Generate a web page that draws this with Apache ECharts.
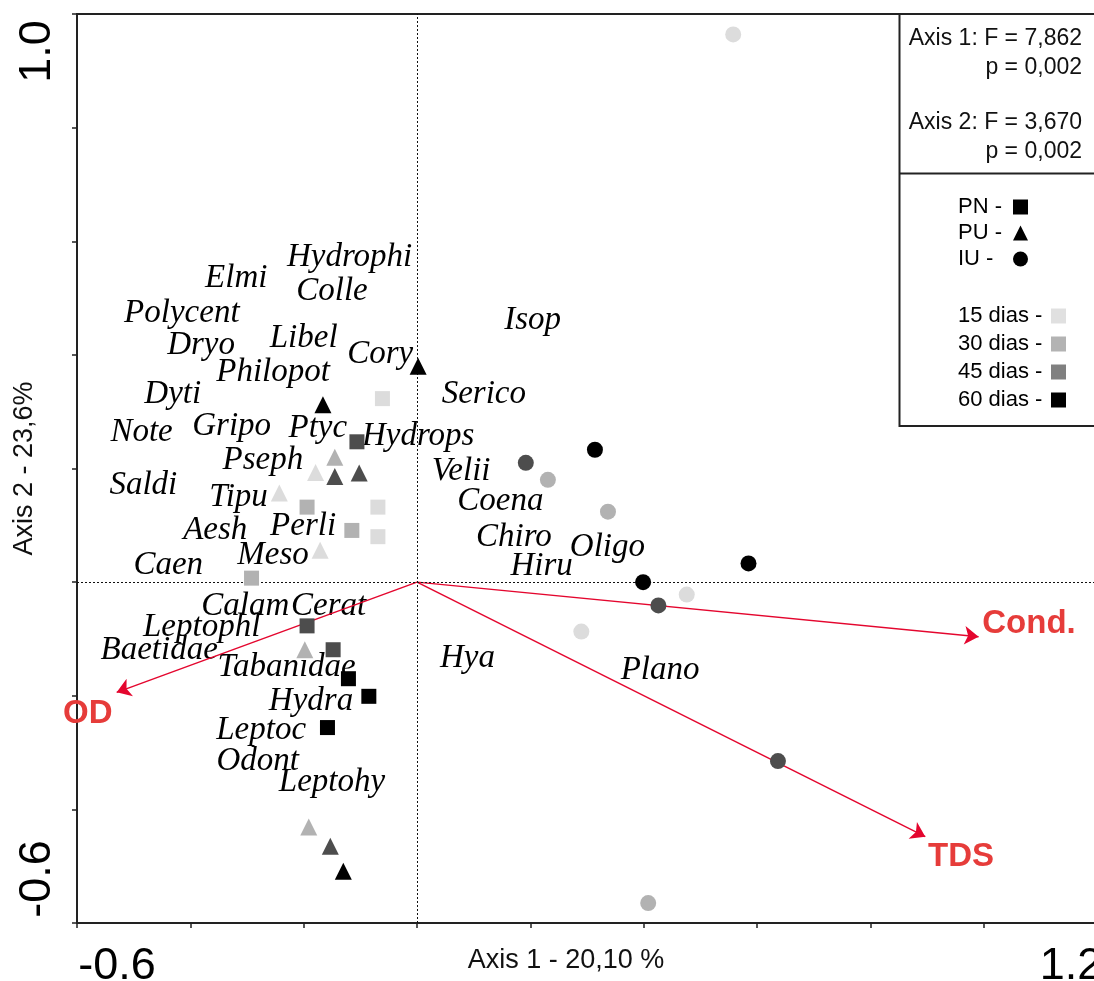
<!DOCTYPE html>
<html><head><meta charset="utf-8">
<script src="https://cdn.jsdelivr.net/npm/echarts@6/dist/echarts.min.js"></script>
<style>html,body{margin:0;padding:0;background:#fff}#chart{width:1094px;height:981px}</style>
</head><body><div id="chart"></div>
<script>
// ---- axis / ticks ----
const xTickLabels = ['-0.6', '1.2'];
const yTickLabels = ['-0.6', '1.0'];
const xAxisTitle = 'Axis 1 - 20,10 %';
const yAxisTitle = 'Axis 2 - 23,6%';

// ---- statistics box ----
const statsLines = ['Axis 1: F = 7,862', 'p = 0,002', 'Axis 2: F = 3,670', 'p = 0,002'];

// ---- legend ----
const siteNames = ['PN', 'PU', 'IU'];
const siteSymbols = ['rect', 'triangle', 'circle'];
const dayNames = ['15 dias', '30 dias', '45 dias', '60 dias'];
const dayDays = [15, 30, 45, 60];
const dayLegendColors = ['#e0e0e0', '#b3b3b3', '#808080', '#000000'];
const dayPointColors = ['#dcdcdc', '#b2b2b2', '#4d4d4d', '#000000'];

// ---- sample scores [axis1, axis2, day] ----
const pnPoints = [
  [-0.061, 0.323, 15], [-0.069, 0.132, 15], [-0.069, 0.080, 15],
  [-0.194, 0.132, 30], [-0.115, 0.091, 30], [-0.292, 0.007, 30],
  [-0.106, 0.247, 45], [-0.194, -0.077, 45], [-0.148, -0.119, 45],
  [-0.121, -0.170, 60], [-0.085, -0.201, 60], [-0.158, -0.256, 60]
];
const puPoints = [
  [-0.179, 0.193, 15], [-0.243, 0.157, 15], [-0.171, 0.056, 15],
  [-0.145, 0.220, 30], [-0.198, -0.119, 30], [-0.191, -0.431, 30],
  [-0.145, 0.186, 45], [-0.102, 0.192, 45], [-0.153, -0.465, 45],
  [0.002, 0.380, 60], [-0.166, 0.312, 60], [-0.130, -0.509, 60]
];
const iuPoints = [
  [0.558, 0.964, 15], [0.476, -0.022, 15], [0.290, -0.087, 15],
  [0.231, 0.180, 30], [0.337, 0.124, 30], [0.408, -0.565, 30],
  [0.192, 0.210, 45], [0.426, -0.041, 45], [0.637, -0.315, 45],
  [0.314, 0.233, 60], [0.585, 0.033, 60], [0.399, 0.000, 60]
];

// ---- species scores ----
const speciesNames = ['Hydrophi','Colle','Elmi','Polycent','Dryo','Libel','Cory','Philopot','Dyti','Serico',
  'Note','Gripo','Ptyc','Hydrops','Pseph','Velii','Saldi','Tipu','Coena','Aesh','Perli','Chiro','Meso','Caen',
  'Oligo','Hiru','Isop','Calam','Cerat','Leptophl','Baetidae','Tabanidae','Hydra','Leptoc','Odont','Leptohy','Hya','Plano'];
const speciesScores = [
  [-0.119, 0.571], [-0.150, 0.512], [-0.319, 0.534], [-0.415, 0.474], [-0.381, 0.416], [-0.200, 0.429],
  [-0.065, 0.401], [-0.254, 0.369], [-0.431, 0.330], [0.118, 0.330], [-0.486, 0.263], [-0.327, 0.274],
  [-0.175, 0.271], [0.002, 0.257], [-0.272, 0.214], [0.078, 0.195], [-0.483, 0.170], [-0.315, 0.150],
  [0.147, 0.142], [-0.356, 0.092], [-0.201, 0.099], [0.171, 0.078], [-0.254, 0.048], [-0.439, 0.030],
  [0.336, 0.062], [0.220, 0.027], [0.204, 0.460], [-0.303, -0.043], [-0.156, -0.043], [-0.380, -0.079],
  [-0.455, -0.120], [-0.230, -0.150], [-0.187, -0.210], [-0.275, -0.260], [-0.281, -0.315], [-0.150, -0.353],
  [0.089, -0.134], [0.429, -0.155]
];

// ---- environmental vectors ----
const envNames = ['OD', 'Cond.', 'TDS'];
const envTips = [[-0.530, -0.194], [0.991, -0.096], [0.897, -0.448]];
const envLabelAt = [[-0.581, -0.232], [1.080, -0.073], [0.960, -0.484]];

const chart = echarts.init(document.getElementById('chart'), null, {renderer: 'canvas'});

const sans = 'Liberation Sans, Arial, sans-serif';
const serif = 'Liberation Serif, Times New Roman, serif';

function fmt(v) { let s = (Math.round(v * 10) / 10).toFixed(1); if (s === '-0.0') s = '0.0'; return s; }

const sites = [
  {name: siteNames[0], pts: pnPoints, symbol: siteSymbols[0], size: 15},
  {name: siteNames[1], pts: puPoints, symbol: siteSymbols[1], size: 17},
  {name: siteNames[2], pts: iuPoints, symbol: siteSymbols[2], size: 16}
];

const series = [];
// species labels
series.push({
  type: 'scatter', name: 'species', z: 1, silent: true,
  symbolSize: 1, itemStyle: {color: 'rgba(255,255,255,0)', opacity: 1},
  data: speciesScores.map((p, i) => ({name: speciesNames[i], value: p})),
  label: {show: true, position: 'inside', formatter: p => p.name, opacity: 1,
    fontFamily: serif, fontStyle: 'italic', fontSize: 33, color: '#000'},
  markLine: {
    silent: true, symbol: 'none', animation: false,
    label: {show: false},
    lineStyle: {type: [2, 2], color: '#111', width: 1, opacity: 1},
    data: [{xAxis: 0}, {yAxis: 0}]
  },
  animation: false
});
// arrows
series.push({
  type: 'lines', coordinateSystem: 'cartesian2d', z: 2, silent: true,
  symbol: ['none', 'arrow'], symbolSize: 14,
  lineStyle: {color: '#e4062e', width: 1.5, opacity: 1},
  data: envTips.map(t => ({coords: [[0, 0], t]})),
  animation: false
});
// arrow labels
series.push({
  type: 'scatter', name: 'env', z: 2, silent: true,
  symbolSize: 1, itemStyle: {color: 'rgba(255,255,255,0)', opacity: 1},
  data: envLabelAt.map((p, i) => ({name: envNames[i], value: p})),
  label: {show: true, position: 'inside', formatter: p => p.name, opacity: 1,
    fontFamily: sans, fontWeight: 'bold', fontSize: 33, color: '#e63c3a'},
  animation: false
});
// sample points
sites.forEach(s => {
  series.push({
    type: 'scatter', name: s.name, z: 5, symbol: s.symbol, symbolSize: s.size,
    itemStyle: {color: '#000', opacity: 1},
    data: s.pts.map(p => ({value: [p[0], p[1]], itemStyle: {color: dayPointColors[dayDays.indexOf(p[2])], opacity: 1}})),
    emphasis: {disabled: true}, animation: false
  });
});
// legend-only series for days
dayNames.forEach((n, i) => series.push({type: 'scatter', name: n, data: [], itemStyle: {color: dayLegendColors[i], opacity: 1}}));

const option = {
  backgroundColor: '#fff',
  animation: false,
  grid: {left: 77, top: 14, width: 1020, height: 909, containLabel: false, outerBoundsMode: 'none',
    show: true, borderColor: '#222', borderWidth: 2, backgroundColor: 'transparent'},
  xAxis: {
    type: 'value', min: -0.6, max: 1.2, interval: 0.2,
    name: xAxisTitle, nameLocation: 'middle', nameGap: 24, nameMoveOverlap: false,
    nameTextStyle: {fontFamily: sans, fontSize: 27, color: '#111', padding: [0, 42, 0, 0]},
    axisLine: {show: true, onZero: false, lineStyle: {color: '#222', width: 2}},
    axisTick: {show: true, inside: false, length: 5, lineStyle: {color: '#222', width: 1.5}},
    splitLine: {show: false},
    axisLabel: {
      margin: 21, color: '#000', fontFamily: sans, fontSize: 45,
      formatter: v => { const s = fmt(v); if (s === xTickLabels[0]) return '{a|' + s + '}'; if (s === xTickLabels[1]) return '{b|' + s + '}'; return ''; },
      rich: {
        a: {fontFamily: sans, fontSize: 45, color: '#000', padding: [0, 0, 0, 80]},
        b: {fontFamily: sans, fontSize: 45, color: '#000', padding: [0, 52, 0, 0]}
      }
    }
  },
  yAxis: {
    type: 'value', min: -0.6, max: 1.0, interval: 0.2,
    name: yAxisTitle, nameLocation: 'middle', nameGap: 39, nameRotate: 90, nameMoveOverlap: false,
    nameTextStyle: {fontFamily: sans, fontSize: 27, color: '#111'},
    axisLine: {show: true, onZero: false, lineStyle: {color: '#222', width: 2}},
    axisTick: {show: true, inside: false, length: 5, lineStyle: {color: '#222', width: 1.5}},
    splitLine: {show: false},
    axisLabel: {
      margin: 17, rotate: 90, color: '#000', fontFamily: sans, fontSize: 45,
      formatter: v => { const s = fmt(v); if (s === yTickLabels[0]) return '{a|' + s + '}'; if (s === yTickLabels[1]) return '{b|' + s + '}'; return ''; },
      rich: {
        a: {fontFamily: sans, fontSize: 45, color: '#000', padding: [0, 0, 0, 88]},
        b: {fontFamily: sans, fontSize: 45, color: '#000', padding: [0, 75, 0, 0]}
      }
    }
  },
  legend: [
    {
      data: siteNames.map((n, i) => ({name: n, icon: siteSymbols[i], itemStyle: {color: '#000', opacity: 1}})),
      orient: 'vertical', left: 958, top: 196, padding: 0,
      itemWidth: 15, itemHeight: 15, itemGap: 4, align: 'right', selectedMode: false,
      formatter: n => '{t|' + n + ' - }',
      textStyle: {fontFamily: sans, fontSize: 22, color: '#000',
        rich: {t: {fontFamily: sans, fontSize: 22, color: '#000', width: 50, align: 'left'}}}
    },
    {
      data: dayNames.map((n, i) => ({name: n, icon: 'rect', itemStyle: {color: dayLegendColors[i], opacity: 1}})),
      orient: 'vertical', left: 958, top: 305, padding: 0,
      itemWidth: 15, itemHeight: 15, itemGap: 6, align: 'right', selectedMode: false,
      formatter: n => '{t|' + n + ' - }',
      textStyle: {fontFamily: sans, fontSize: 22, color: '#000',
        rich: {t: {fontFamily: sans, fontSize: 22, color: '#000', width: 88, align: 'left'}}}
    }
  ],
  graphic: [
    {type: 'rect', shape: {x: 899.5, y: 14, width: 230, height: 412}, style: {fill: 'none', stroke: '#222', lineWidth: 2}, silent: true},
    {type: 'line', shape: {x1: 899.5, y1: 173.5, x2: 1100, y2: 173.5}, style: {stroke: '#222', lineWidth: 2}, silent: true},
    ...statsLines.map((t, i) => ({
      type: 'text', x: 1082, y: [39, 68, 123, 152][i], silent: true,
      style: {text: t, align: 'right', verticalAlign: 'middle', fontFamily: sans, fontSize: 23, fill: '#111'}
    }))
  ],
  series: series
};
chart.setOption(option);
</script>
</body></html>
